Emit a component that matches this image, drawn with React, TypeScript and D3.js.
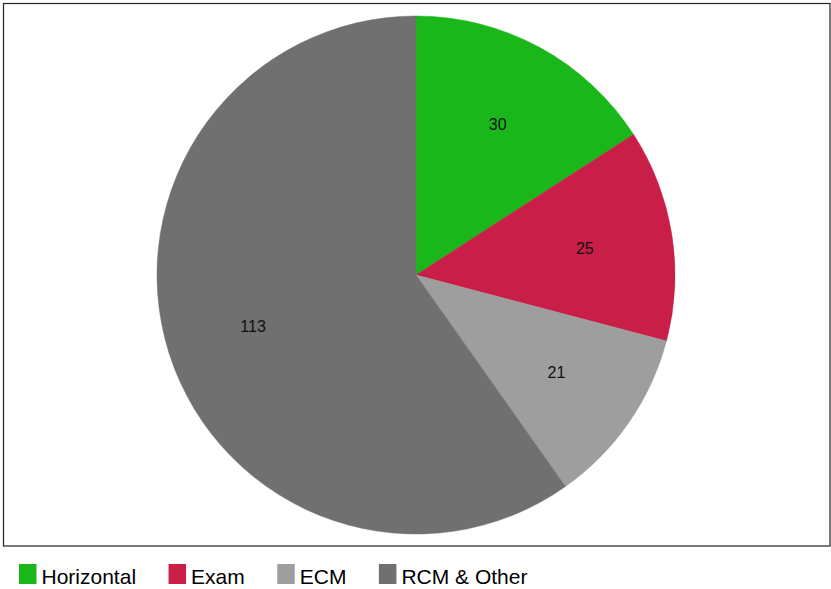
import { useRef, useEffect } from "react";
import * as d3 from "d3";

// slice data
const categories = ["Horizontal", "Exam", "ECM", "RCM & Other"];
const values = [30, 25, 21, 113];
const colors = ["#1ab71a", "#c81e48", "#9e9e9e", "#707070"];

const W = 831;
const H = 589;
const font = "'Liberation Sans', Arial, sans-serif";

export default function App() {
  const ref = useRef<SVGSVGElement | null>(null);

  useEffect(() => {
    const svg = d3.select(ref.current);
    svg.selectAll("*").remove();

    // plot frame
    svg.append("rect")
      .attr("x", 3.5).attr("y", 3.5)
      .attr("width", 826.5).attr("height", 542.5)
      .attr("fill", "#fff")
      .attr("stroke", "#222")
      .attr("stroke-width", 1.2);

    const cx = 416, cy = 275, r = 259;
    const data = categories.map((c, i) => ({ name: c, value: values[i], fill: colors[i] }));

    const pie = d3.pie<typeof data[0]>().sort(null).value(d => d.value);
    const arc = d3.arc<d3.PieArcDatum<typeof data[0]>>().innerRadius(0).outerRadius(r);
    const labelArc = d3.arc<d3.PieArcDatum<typeof data[0]>>().innerRadius(r * 0.66).outerRadius(r * 0.66);

    const g = svg.append("g").attr("transform", `translate(${cx},${cy})`);
    const arcs = pie(data);

    g.selectAll("path")
      .data(arcs)
      .enter()
      .append("path")
      .attr("d", arc)
      .attr("fill", d => d.data.fill)
      .attr("stroke", d => d.data.fill)
      .attr("stroke-width", 0.5);

    g.selectAll("text")
      .data(arcs)
      .enter()
      .append("text")
      .attr("x", d => labelArc.centroid(d)[0])
      .attr("y", d => labelArc.centroid(d)[1])
      .attr("text-anchor", "middle")
      .attr("dominant-baseline", "central")
      .attr("font-family", font)
      .attr("font-size", 16)
      .attr("fill", "#111")
      .text(d => d.data.value);

    // legend
    const leg = svg.append("g").attr("transform", "translate(19,564)");
    let x = 0;
    data.forEach(d => {
      const item = leg.append("g").attr("transform", `translate(${x},0)`);
      item.append("rect")
        .attr("width", 17.5).attr("height", 20)
        .attr("fill", d.fill);
      const t = item.append("text")
        .attr("x", 22.5).attr("y", 20)
        .attr("font-family", font)
        .attr("font-size", 21)
        .attr("fill", "#000")
        .text(d.name);
      const w = (t.node() as SVGTextElement).getComputedTextLength();
      x += 22.5 + w + 32.5;
    });
  }, []);

  return (
    <svg
      ref={ref}
      width={W}
      height={H}
      style={{ position: "absolute", left: 0, top: 0, background: "#fff" }}
    />
  );
}
